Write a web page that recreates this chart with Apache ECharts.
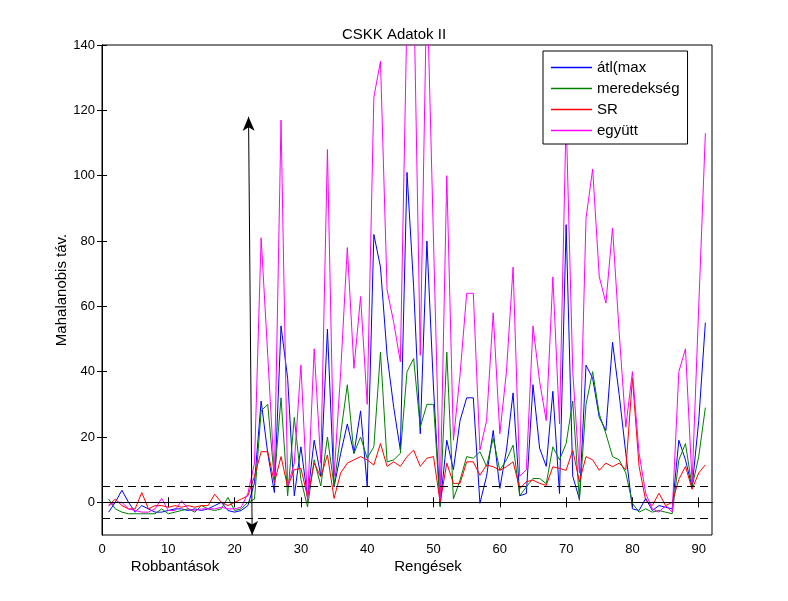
<!DOCTYPE html>
<html><head><meta charset="utf-8">
<script src="https://cdn.jsdelivr.net/npm/echarts@6/dist/echarts.min.js"></script>
<style>html,body{margin:0;padding:0;background:#fff}#c{width:788px;height:601px}</style>
</head><body><div id="c"></div>
<script>
const xIdx = [1,2,3,4,5,6,7,8,9,10,11,12,13,14,15,16,17,18,19,20,21,22,23,24,25,26,27,28,29,30,31,32,33,34,35,36,37,38,39,40,41,42,43,44,45,46,47,48,49,50,51,52,53,54,55,56,57,58,59,60,61,62,63,64,65,66,67,68,69,70,71,72,73,74,75,76,77,78,79,80,81,82,83,84,85,86,87,88,89,90,91];
const atlMax = [-3,0,3.7,0,-3,-1,-2,-3,-3,-2.5,-2,-2,-2.5,-2,-2.5,-2,-1,0,-2.5,-3,-2.5,-1,6,31,15,3,54,38,2,17,1.5,19,8,53,4.7,15,24,15,28,5,82,72,45,29,16,101,66,21,80,35,-1,19,10,25,32,32,-0.3,8,22,4.3,16,33.5,2,2.7,36,16.6,11,34,2.7,85,8,1,42,38,26,22,49,33,15,-2,-2.5,1.2,-2.5,-1,-1.5,-2,19,13,4.6,25,55];
const meredekseg = [1,-2,-3,-3.5,-3.5,-3.5,-3.5,-3.5,-2,-3.5,-3,-2.5,-2,-3,-1,-2,-2.5,-2,1.5,-2.5,-2,0,1,28,30,7,32,2,26,7,-1.4,13,5,20,5,21,36,15,20,13.5,17,46,12.4,13,15,40,44,23,30,30,-1.4,46,1,6.8,14,13.5,15.5,11,19.6,9.8,13,17.5,2,4.7,7.3,7.3,5.7,17,13,18,31,0.6,30,40,27,21,14,13,9,-0.3,-3,-2,-3,-2.5,-3,-3.5,13,18,4.7,14,29];
const sr = [-1,1,-1,-2,-2,3,-2,-1,-1,-1.5,-1,-1.5,-1,-1.5,-1,-1,2.5,0,-1,0,1,2,8,15.5,15.5,6,14,4.7,10,10.4,1.6,12,7.8,14.5,1.2,9,12,13,14,13,11.4,18,11,12.4,11,14,16,11,13.5,14,0,12,5.8,5.8,12.4,12.4,8.3,11.4,10.9,9.8,10.9,12.4,4.2,6.3,6.8,5.8,5.2,10.9,10.4,9.8,16,6.3,14,13,9.8,12,10.9,12,10,38,11,0.6,-1,2.8,-1,0,7,11,4,9,11.5];
const egyutt = [-1,0,0,-2,-2.5,-3,-3,-2,1.2,-2.5,-2.5,0.5,-2,-2.5,-2,-2,-2,-1.5,-2,-2,-1.5,2.7,12,81,45,8,117,5,12,42,0,47,12,108,8,40,78,41,63,30,124,135,65,55,43,150,160,45,160,80,1,100,19,39,64,64,16,25,58,21,40,72,8,10,54,37,25,69,24,118,40,9,87,102,69,61,84,52,23,40,15,2.7,-2,-3,-1,-3,40,47,6,60,113];
const xTicks = [0,10,20,30,40,50,60,70,80,90];
const yTicks = [0,20,40,60,80,100,120,140];
const seriesNames = ['átl(max','meredekség','SR','együtt'];
const seriesValues = [atlMax, meredekseg, sr, egyutt];
const colors = ['#0000ff','#008000','#ff0000','#ff00ff'];
const solidLines = [0];
const dashedLines = [5,-5];
const arrowPts = [[22.1,118],[22.65,-10]];
const titleText = 'CSKK Adatok II';
const yName = 'Mahalanobis táv.';
const bottomLabels = ['Robbantások','Rengések'];

const FONT = 'Liberation Sans, Arial, sans-serif';
const chart = echarts.init(document.getElementById('c'), null, {renderer:'canvas'});

const axisCommon = {
  axisLine:{show:true,lineStyle:{color:'#000',width:1}},
  splitLine:{show:false}
};

const series = seriesNames.map((n,i)=>({
  name:n, type:'line', symbol:'none', animation:false,
  lineStyle:{width:1,color:colors[i]}, itemStyle:{color:colors[i]},
  emphasis:{disabled:true},
  data: xIdx.map((x,j)=>[x, seriesValues[i][j]])
}));

const hData = [];
solidLines.forEach(v=>hData.push({yAxis:v, lineStyle:{type:'solid',color:'#000',width:1}}));
dashedLines.forEach(v=>hData.push({yAxis:v, lineStyle:{type:[8,5],color:'#000',width:1}}));

series.unshift({
  type:'line', data:[], silent:true, animation:false,
  markLine:{silent:true, animation:false, symbol:['none','none'], label:{show:false},
    emphasis:{disabled:true}, data: hData}
});
series.unshift({
  type:'line', data:[], silent:true, animation:false,
  markLine:{silent:true, animation:false, symbol:['arrow','arrow'], symbolSize:[9,14], label:{show:false},
    lineStyle:{color:'#000',width:1,type:'solid'}, emphasis:{disabled:true},
    data: [[{coord:arrowPts[0]},{coord:arrowPts[1]}]]}
});

chart.setOption({
  animation:false,
  backgroundColor:'#fff',
  title:{text:titleText, left:'center', top:22, textStyle:{fontFamily:FONT,fontSize:15,fontWeight:'normal',color:'#000'}},
  grid:{left:102,right:76,top:45,bottom:66,show:true,borderColor:'#000',borderWidth:1},
  legend:{data:seriesNames, icon:'rect', orient:'vertical', left:543, top:51, itemWidth:41, itemHeight:1.5, itemGap:6,
    padding:[9,8,6,8], borderColor:'#000', borderWidth:1, backgroundColor:'#fff', borderRadius:0,
    textStyle:{fontFamily:FONT,fontSize:15,color:'#000'}, selectedMode:false},
  xAxis:[
    Object.assign({type:'value',min:0,max:92,position:'bottom',
      axisTick:{inside:true,length:5,customValues:xTicks,lineStyle:{color:'#000'}},
      axisLabel:{customValues:xTicks,color:'#000',fontFamily:FONT,fontSize:13,margin:8}},axisCommon),
    Object.assign({type:'value',min:0,max:92,position:'top',
      axisTick:{inside:true,length:5,customValues:xTicks,lineStyle:{color:'#000'}},
      axisLabel:{show:false}},axisCommon)
  ],
  yAxis:[
    Object.assign({type:'value',min:-10,max:140,position:'left',
      axisTick:{inside:true,length:5,customValues:yTicks,lineStyle:{color:'#000'}},
      axisLabel:{customValues:yTicks,color:'#000',fontFamily:FONT,fontSize:13,margin:7}},axisCommon),
    Object.assign({type:'value',min:-10,max:140,position:'right',
      axisTick:{inside:true,length:5,customValues:yTicks,lineStyle:{color:'#000'}},
      axisLabel:{show:false}},axisCommon)
  ],
  graphic:[
    {type:'text', x:62, y:290, rotation:Math.PI/2, style:{text:yName, fill:'#000', font:'15px '+FONT, align:'center', verticalAlign:'middle'}},
    {type:'text', x:175, y:567, style:{text:bottomLabels[0], fill:'#000', font:'15px '+FONT, align:'center', verticalAlign:'middle'}},
    {type:'text', x:428, y:567, style:{text:bottomLabels[1], fill:'#000', font:'15px '+FONT, align:'center', verticalAlign:'middle'}}
  ],
  series: series
});
</script>
</body></html>
